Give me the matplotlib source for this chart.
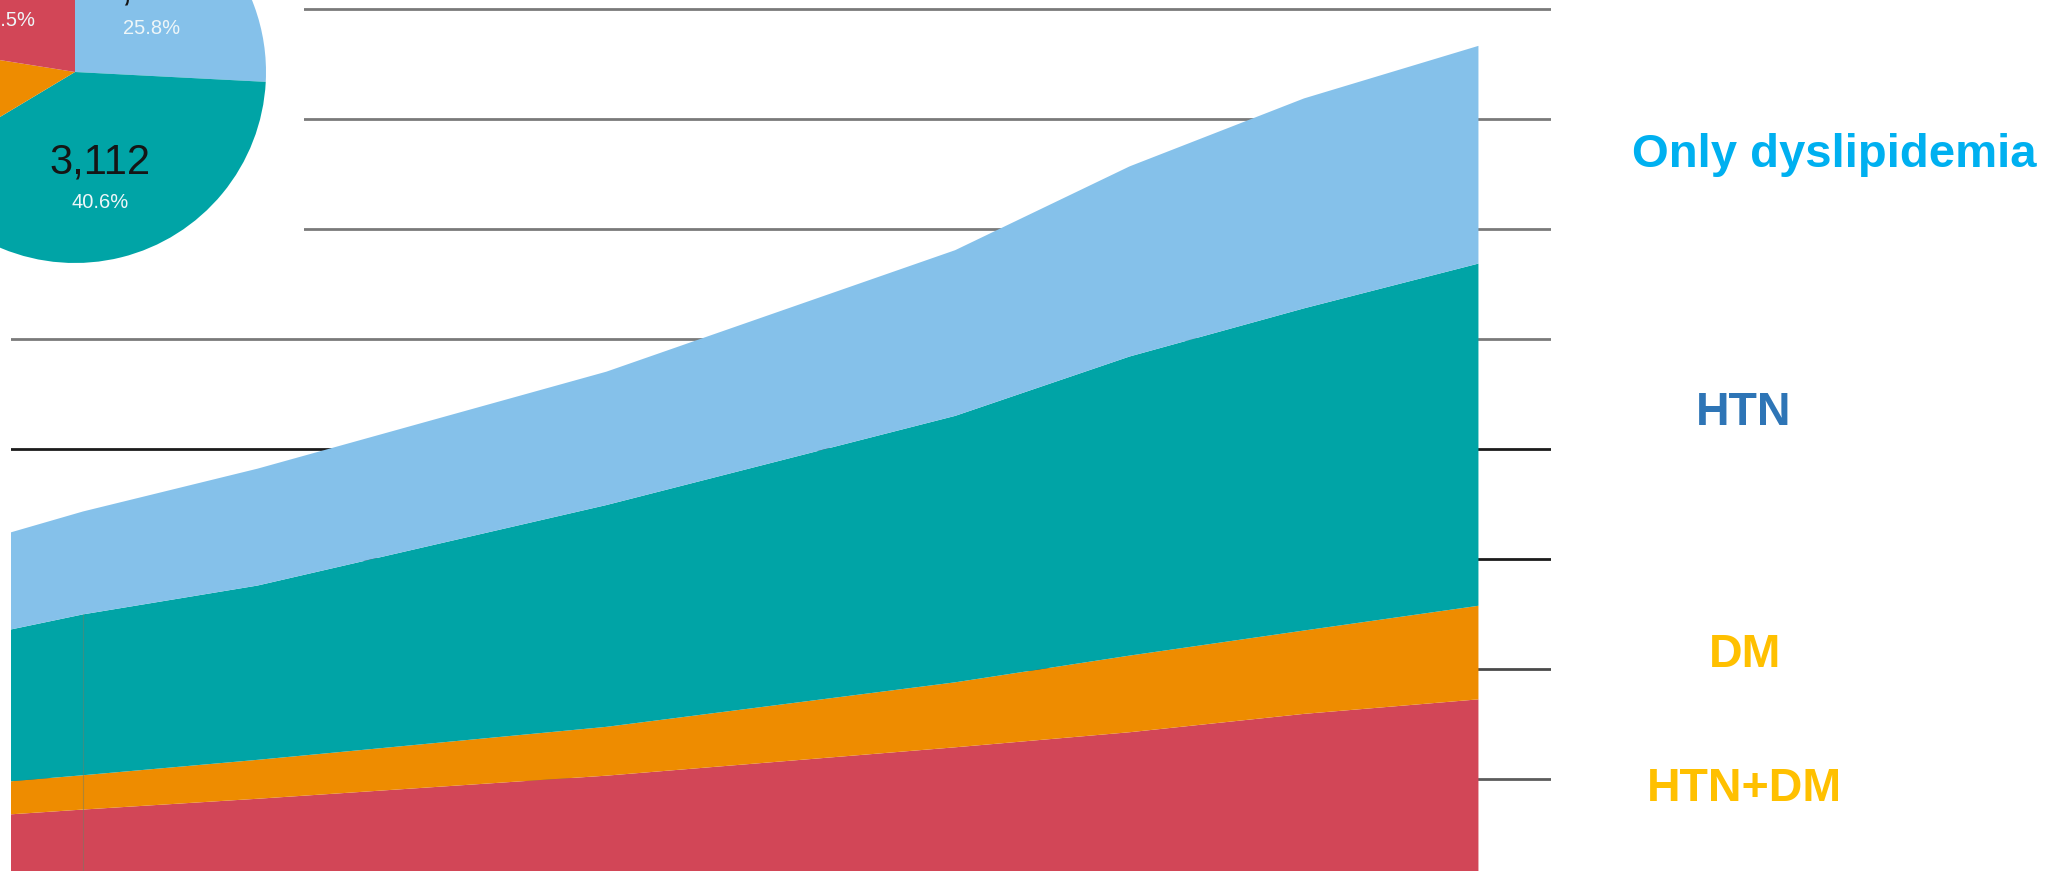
import numpy as np
import matplotlib
matplotlib.use("Agg")
import matplotlib.pyplot as plt

plt.rcParams["font.family"] = ["Liberation Sans", "DejaVu Sans"]

# ---------- data ----------
period = [0, 1, 2, 4, 6, 7, 8, 9]
htn_dm = [618, 723, 821, 1031, 1289, 1426, 1593, 1725]
dm = [284, 312, 354, 444, 591, 697, 758, 851]
htn = [1264, 1463, 1585, 2017, 2423, 2720, 2930, 3112]
dyslip = [809, 936, 1063, 1213, 1507, 1729, 1909, 1980]

# pie: only dyslipidemia, HTN, DM, HTN+DM (clockwise from 12 o'clock)
pie_counts = [1980, 3112, 851, 1725]
pie_labelled = [True, True, False, True]   # DM label lies outside the crop

grid_vals = [1000, 2000, 3000, 4000, 5000, 6000, 7000, 8000]
grid_cols = ["#5c5c5c", "#4a4a4a", "#1c1c1c", "#1c1c1c",
             "#7a7a7a", "#7a7a7a", "#7a7a7a", "#7a7a7a"]

RED = "#D24657"
ORANGE = "#EE8C00"
TEAL = "#00A4A6"
LBLUE = "#85C1EA"

fig = plt.figure(figsize=(20.7, 8.71), dpi=100)

# ---------- stacked area ----------
ax = fig.add_axes([10.6 / 2070, 0, (1551 - 10.6) / 2070, 1])
ax.stackplot(period, htn_dm, dm, htn, dyslip,
             colors=[RED, ORANGE, TEAL, LBLUE], linewidth=0, zorder=2)
for v, c in zip(grid_vals, grid_cols):
    ax.axhline(v, color=c, lw=2.0, zorder=1)
first_top = htn_dm[1] + dm[1] + htn[1]
ax.vlines(period[1], 0, first_top, color="#6f7f66", lw=0.8, alpha=0.5, zorder=3)
ax.set_xlim(0.584, 9.416)
ax.set_ylim(164, 8085)
ax.axis("off")

# ---------- pie inset (cropped) ----------
axp = fig.add_axes([0, 1 - 287 / 871, 304 / 2070, 287 / 871])
wedges, _ = axp.pie(pie_counts, colors=[LBLUE, TEAL, ORANGE, RED], startangle=90,
                    counterclock=False, wedgeprops=dict(linewidth=0))
axp.set_aspect("auto")
axp.set_xlim(-75 / 191, (304 - 75) / 191)
axp.set_ylim((72 - 287) / 191, 72 / 191)
axp.set_frame_on(True)
for s in axp.spines.values():
    s.set_visible(False)
axp.set_facecolor("white")

total = sum(pie_counts)
for w, n, show in zip(wedges, pie_counts, pie_labelled):
    if not show:
        continue
    ang = np.deg2rad((w.theta1 + w.theta2) / 2)
    x, y = 0.55 * np.cos(ang), 0.55 * np.sin(ang)
    axp.text(x, y, f"{n:,}", ha="center", va="baseline", fontsize=30, color="#151515")
    axp.text(x, y - 0.178, f"{n / total * 100:.1f}%", ha="center", va="baseline",
             fontsize=14.5, color="#EEF6F8")

# ---------- right-hand labels ----------
fig.text(0.886, 0.8086, "Only dyslipidemia", ha="center", va="baseline",
         fontsize=34, fontweight="bold", color="#00B0F0")
fig.text(0.8425, 0.512, "HTN", ha="center", va="baseline",
         fontsize=33.5, fontweight="bold", color="#2E75B6")
fig.text(0.8428, 0.2342, "DM", ha="center", va="baseline",
         fontsize=33.5, fontweight="bold", color="#FFC000")
fig.text(0.8428, 0.0804, "HTN+DM", ha="center", va="baseline",
         fontsize=33.5, fontweight="bold", color="#FFC000")

fig.savefig("out.png", dpi=100)
